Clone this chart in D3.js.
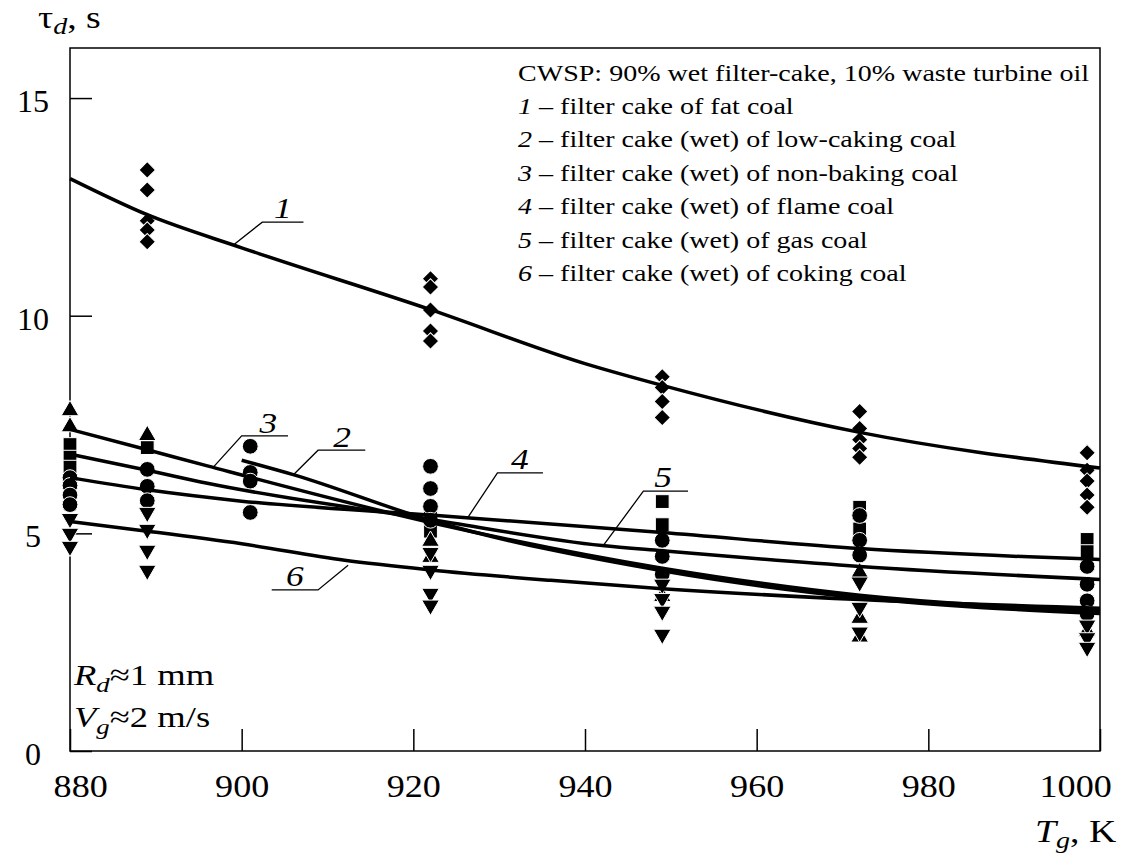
<!DOCTYPE html>
<html>
<head>
<meta charset="utf-8">
<script src="https://cdn.jsdelivr.net/npm/d3@7"></script>
<style>
body { margin: 0; background: #fff; }
text { font-family: "Liberation Serif", "Times New Roman", serif; fill: #000; }
</style>
</head>
<body>
<svg id="chart" width="1131" height="856"></svg>
<script>
// tick values
var xTicks = [880, 900, 920, 940, 960, 980, 1000]
var yTicks = [0, 5, 10, 15]

// fitted curves, [T, tau]
var curve1 = [[880, 13.15], [889, 12.32], [900, 11.56], [922, 10.14], [940, 8.9], [949, 8.4], [972, 7.32], [1000, 6.5]]
var curve2 = [[900, 6.68], [906, 6.35], [922, 5.3], [949, 4.14], [972, 3.52], [1000, 3.16]]
var curve3 = [[880, 7.39], [889, 6.92], [896, 6.55], [922, 5.25], [949, 4.2], [972, 3.58], [1000, 3.22]]
var curve4 = [[880, 6.28], [889, 6.0], [900, 5.74], [922, 5.42], [949, 5.02], [972, 4.65], [1000, 4.4]]
var curve5 = [[880, 6.82], [889, 6.45], [896, 6.15], [922, 5.32], [942, 4.72], [949, 4.6], [972, 4.24], [1000, 3.94]]
var curve6 = [[880, 5.27], [889, 5.05], [900, 4.76], [912, 4.38], [922, 4.16], [936, 3.92], [949, 3.73], [972, 3.48], [1000, 3.28]]

// measured points by marker shape
var diamondPts = [[889, 13.35], [889, 12.89], [889, 12.18], [889, 11.97], [889, 11.7],
    [922, 10.85], [922, 10.66], [922, 10.13], [922, 9.65], [922, 9.42],
    [949, 8.6], [949, 8.35], [949, 8.03], [949, 7.66],
    [972, 7.8], [972, 7.41], [972, 7.15], [972, 6.95], [972, 6.75],
    [998.5, 6.85], [998.5, 6.45], [998.5, 6.2], [998.5, 5.88], [998.5, 5.6]]
var triUpPts = [[880, 7.82], [880, 7.45], [889, 7.25], [922, 4.82], [922, 4.45],
    [949, 3.55], [972, 4.1], [972, 3.05], [972, 2.62], [998.5, 2.75]]
var squarePts = [[880, 7.04], [880, 6.75], [880, 6.52], [889, 6.97], [922, 5.35], [922, 5.05],
    [949, 5.73], [949, 5.2], [972, 5.6], [972, 5.1], [998.5, 4.86], [998.5, 4.58]]
var circlePts = [[880, 6.28], [880, 6.1], [880, 5.88], [880, 5.66], [889, 6.47], [889, 6.08], [889, 5.75],
    [901, 7.0], [901, 6.4], [901, 6.2], [901, 5.48],
    [922, 6.54], [922, 6.03], [922, 5.62], [922, 5.3],
    [949, 4.84], [949, 4.47], [949, 4.06], [972, 5.41], [972, 4.84], [972, 4.5],
    [998.5, 4.24], [998.5, 3.83], [998.5, 3.45], [998.5, 3.15]]
var triDownPts = [[880, 5.34], [880, 5.0], [880, 4.7], [889, 5.48], [889, 5.09], [889, 4.61], [889, 4.15],
    [922, 4.56], [922, 4.15], [922, 3.62], [922, 3.35],
    [949, 3.83], [949, 3.5], [949, 3.21], [949, 2.68],
    [972, 3.88], [972, 3.3], [972, 2.73], [998.5, 2.89], [998.5, 2.6], [998.5, 2.38]]

// curve labels: name, tip, elbow, end of leader, text anchor (data coords)
var curveLabels = [
    {name: '1', tip: [899.0, 11.62], elbow: [902.4, 12.15], end: [907.2, 12.15], text: [904.8, 12.24]},
    {name: '2', tip: [906.0, 6.34], elbow: [908.9, 6.91], end: [914.4, 6.91], text: [911.7, 6.98]},
    {name: '3', tip: [896.7, 6.52], elbow: [900.0, 7.24], end: [905.4, 7.24], text: [903.1, 7.31]},
    {name: '4', tip: [926.4, 5.38], elbow: [929.8, 6.39], end: [935.1, 6.39], text: [932.4, 6.48]},
    {name: '5', tip: [942.1, 4.71], elbow: [946.8, 5.97], end: [952.0, 5.97], text: [949.1, 6.06]},
    {name: '6', tip: [912.4, 4.27], elbow: [908.9, 3.7], end: [903.5, 3.7], text: [906.2, 3.79]}
]

var legendTitle = 'CWSP: 90% wet filter-cake, 10% waste turbine oil'
var legendItems = ['filter cake of fat coal', 'filter cake (wet) of low-caking coal',
    'filter cake (wet) of non-baking coal', 'filter cake (wet) of flame coal',
    'filter cake (wet) of gas coal', 'filter cake (wet) of coking coal']

var svg = d3.select('#chart')
var margin = {left: 70, right: 1100, top: 48, bottom: 751}
var sx = 1.22 // source figure is stretched horizontally

var xscale = d3.scaleLinear().domain([880, 1000]).range([margin.left, margin.right])
var yscale = d3.scaleLinear().domain([0, 16.15]).range([margin.bottom, margin.top])

function stretchedText(x, y, size) {
    return svg.append('text')
        .attr('transform', 'translate(' + x + ',' + y + ') scale(' + sx + ',1)')
        .attr('font-size', size)
}

// frame
svg.append('rect')
    .attr('x', margin.left).attr('y', margin.top)
    .attr('width', margin.right - margin.left).attr('height', margin.bottom - margin.top)
    .attr('fill', 'none').attr('stroke', '#000').attr('stroke-width', 1.5)

var xAxis = svg.append('g')
    .attr('transform', 'translate(0,' + margin.bottom + ')')
    .call(d3.axisBottom(xscale).tickValues(xTicks).tickFormat(d3.format('d'))
        .tickSizeInner(-22).tickSizeOuter(0).tickPadding(23))
xAxis.select('.domain').remove()
xAxis.selectAll('line').attr('stroke-width', 1.5)
xAxis.selectAll('text').attr('font-size', 32).attr('fill', '#000')
    .attr('transform', 'scale(1.13,1)')
    .attr('dx', function (d) { return d == 880 ? 9 : d == 1000 ? -22 : 0 })

var yAxis = svg.append('g')
    .attr('transform', 'translate(' + margin.left + ',0)')
    .call(d3.axisLeft(yscale).tickValues(yTicks).tickSizeInner(-22).tickSizeOuter(0))
yAxis.select('.domain').remove()
yAxis.selectAll('line').attr('stroke-width', 1.5)
yAxis.selectAll('text').attr('font-size', 32).attr('fill', '#000')
    .attr('text-anchor', 'middle').attr('x', -37).attr('dy', '0.42em')

var line = d3.line()
    .x(function (d) { return xscale(d[0]) })
    .y(function (d) { return yscale(d[1]) })
    .curve(d3.curveMonotoneX)

var markers = [
    {pts: diamondPts, type: d3.symbolSquare, size: 135, rot: 45},
    {pts: squarePts, type: d3.symbolSquare, size: 190, rot: 0},
    {pts: circlePts, type: d3.symbolCircle, size: 195, rot: 0},
    {pts: triUpPts, type: d3.symbolTriangle, size: 135, rot: 0},
    {pts: triDownPts, type: d3.symbolTriangle, size: 135, rot: 180}
]
var mark_g = svg.append('g')
markers.forEach(function (m) {
    mark_g.selectAll(null).data(m.pts).enter()
        .append('path')
        .attr('d', d3.symbol().type(m.type).size(m.size))
        .attr('transform', function (d) {
            return 'translate(' + xscale(d[0]) + ',' + yscale(d[1]) + ') rotate(' + m.rot + ')'
        })
        .attr('fill', '#000').attr('stroke', '#fff').attr('stroke-width', 1)
})

var line_g = svg.append('g')
line_g.selectAll('path').data([curve1, curve2, curve3, curve4, curve5, curve6]).enter()
    .append('path')
    .attr('d', line)
    .attr('fill', 'none').attr('stroke', '#000').attr('stroke-width', 3.5)

// labels with leader lines
var straight = d3.line()
    .x(function (d) { return xscale(d[0]) })
    .y(function (d) { return yscale(d[1]) })
curveLabels.forEach(function (c) {
    svg.append('path')
        .attr('d', straight([c.tip, c.elbow, c.end]))
        .attr('fill', 'none').attr('stroke', '#000').attr('stroke-width', 1.3)
    stretchedText(xscale(c.text[0]), yscale(c.text[1]), 29).text(c.name)
        .attr('text-anchor', 'middle').attr('font-style', 'italic')
})

// legend
stretchedText(518, 81, 23).text(legendTitle)
legendItems.forEach(function (t, i) {
    var tx = stretchedText(518, 114 + i * 33.4, 23)
    tx.append('tspan').attr('font-style', 'italic').text(i + 1)
    tx.append('tspan').text(' \u2013 ' + t)
})

// conditions
var c1 = stretchedText(74, 685, 30)
c1.append('tspan').attr('font-style', 'italic').text('R')
c1.append('tspan').attr('font-style', 'italic').attr('font-size', 22).attr('dy', 7).text('d')
c1.append('tspan').attr('dy', -7).text('\u22481 mm')
var c2 = stretchedText(74, 727, 30)
c2.append('tspan').attr('font-style', 'italic').text('V')
c2.append('tspan').attr('font-style', 'italic').attr('font-size', 22).attr('dy', 7).text('g')
c2.append('tspan').attr('dy', -7).text('\u22482 m/s')

// axis titles
var yt = stretchedText(38, 28, 31)
yt.append('tspan').text('\u03c4')
yt.append('tspan').attr('font-style', 'italic').attr('font-size', 23).attr('dy', 6).text('d')
yt.append('tspan').attr('dy', -6).text(', s')
var xt = stretchedText(1035, 842, 31)
xt.append('tspan').attr('font-style', 'italic').text('T')
xt.append('tspan').attr('font-style', 'italic').attr('font-size', 23).attr('dy', 6).text('g')
xt.append('tspan').attr('dy', -6).text(', K')
</script>
</body>
</html>
